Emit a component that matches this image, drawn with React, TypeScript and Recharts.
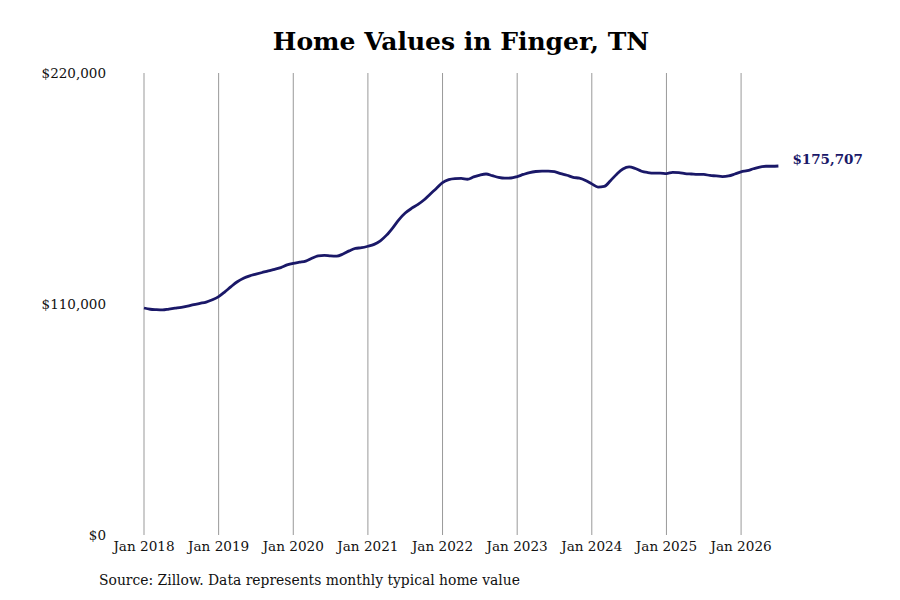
import { LineChart, Line, XAxis, YAxis, ReferenceLine } from 'recharts'

// monthly typical home value, Jan 2018 .. Jul 2026
const values2018 = [108100, 107500, 107300, 107200, 107600, 108000, 108400, 109000, 109700, 110300, 110900, 112000]
const values2019 = [113500, 115800, 118300, 120600, 122300, 123400, 124200, 125000, 125800, 126500, 127300, 128600]
const values2020 = [129400, 129900, 130400, 131800, 132900, 133200, 132900, 132800, 133800, 135300, 136500, 136800]
const values2021 = [137500, 138400, 140100, 142800, 146300, 150200, 153300, 155500, 157300, 159500, 162300, 165000]
const values2022 = [167800, 169200, 169700, 169800, 169400, 170500, 171400, 171900, 171100, 170300, 169900, 170000]
const values2023 = [170700, 171700, 172600, 173100, 173300, 173300, 173000, 172100, 171300, 170300, 169900, 168800]
const values2024 = [167200, 165700, 166000, 168700, 171800, 174300, 175300, 174500, 173200, 172600, 172300, 172300]
const values2025 = [172100, 172700, 172600, 172100, 171900, 171700, 171700, 171200, 171000, 170700, 171000, 171900]
const values2026 = [172900, 173500, 174400, 175200, 175600, 175600, 175707]

const homeValues = [
  ...values2018, ...values2019, ...values2020, ...values2021, ...values2022,
  ...values2023, ...values2024, ...values2025, ...values2026,
]

const tickLabels = ['Jan 2018', 'Jan 2019', 'Jan 2020', 'Jan 2021', 'Jan 2022', 'Jan 2023', 'Jan 2024', 'Jan 2025', 'Jan 2026']
const yTicks = [0, 110000, 220000]

const data = homeValues.map((value, i) => ({ month: i, value }))
const xTicks = tickLabels.map((_, i) => i * 12)

const NAVY = '#1a1868'
const FONT = '"DejaVu Serif", serif'

const money = (v: number) => `$${v.toLocaleString('en-US')}`

function EndLabel(props: any) {
  const { x, y, index, value } = props
  if (index !== data.length - 1) return null
  return (
    <text x={x + 14} y={y - 7} dominantBaseline="central" fill={NAVY} fontSize={13.5} fontWeight="bold" fontFamily={FONT}>
      {money(value)}
    </text>
  )
}

export default function App() {
  return (
    <div style={{ position: 'relative', width: 884, height: 584, fontFamily: FONT, background: '#fff' }}>
      <div
        style={{
          position: 'absolute', top: 19, left: 0, width: 906, textAlign: 'center',
          fontSize: 25, fontWeight: 'bold', color: '#000',
        }}
      >
        Home Values in Finger, TN
      </div>
      <LineChart width={884} height={584} data={data} margin={{ top: 65, right: 113.6, left: 0, bottom: 27 }}>
        {xTicks.map((t) => (
          <ReferenceLine key={t} x={t} stroke="#999" strokeWidth={1} />
        ))}
        <XAxis
          dataKey="month"
          type="number"
          domain={[0, 102]}
          ticks={xTicks}
          tickFormatter={(v: number) => tickLabels[v / 12]}
          axisLine={false}
          tickLine={false}
          tickMargin={0}
          tick={{ fontSize: 13.6, fill: '#111', fontFamily: FONT }}
          interval={0}
        />
        <YAxis
          domain={[0, 220000]}
          ticks={yTicks}
          width={136}
          tickFormatter={money}
          axisLine={false}
          tickLine={false}
          tickMargin={32}
          tick={{ fontSize: 13.5, fill: '#111', fontFamily: FONT }}
        />
        <Line
          type="monotone"
          dataKey="value"
          stroke={NAVY}
          strokeWidth={2.8}
          dot={false}
          isAnimationActive={false}
          label={<EndLabel />}
        />
      </LineChart>
      <div style={{ position: 'absolute', top: 564, left: 91, fontSize: 13.9, color: '#111' }}>
        Source: Zillow. Data represents monthly typical home value
      </div>
    </div>
  )
}
